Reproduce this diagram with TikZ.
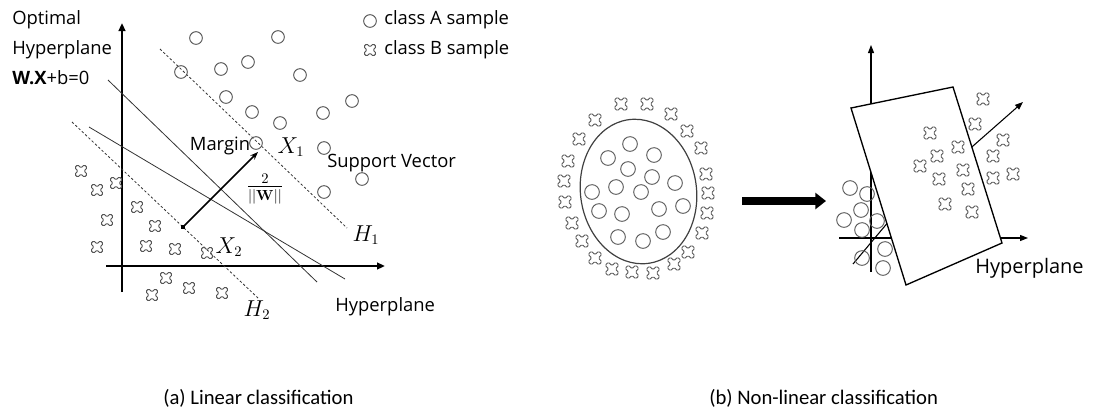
\documentclass[tikz,border=0pt]{standalone}
\usepackage[no-math]{fontspec}
\setmainfont{Open Sans}
\newfontfamily\capfont{Carlito}
\usepackage{amsmath}
\usepackage{tikz}
\usepackage{xcolor}
\usetikzlibrary{arrows.meta}
\definecolor{sampgray}{RGB}{85,85,85}

\tikzset{
  asample/.style={circle, draw=sampgray, line width=0.7pt, minimum size=9.5pt, inner sep=0pt},
  bigsample/.style={asample, minimum size=11pt, draw=black!65},
  bcross/.pic={\draw[sampgray, line width=0.7pt, rotate=45, rounded corners=1pt]
      (2.1,2.1) -- (2.1,6.8) -- (-2.1,6.8) -- (-2.1,2.1) -- (-6.8,2.1) -- (-6.8,-2.1)
      -- (-2.1,-2.1) -- (-2.1,-6.8) -- (2.1,-6.8) -- (2.1,-2.1) -- (6.8,-2.1) -- (6.8,2.1) -- cycle;},
  lbl/.style={font=\fontsize{13.8}{16}\selectfont, inner sep=0pt},
  mlbl/.style={font=\fontsize{16}{18}\selectfont, inner sep=0pt},
  captext/.style={font=\capfont\fontsize{15.5}{18}\selectfont, inner sep=0pt},
  axis/.style={line width=1.5pt, -{Triangle[length=6pt,width=5pt]}},
  thinaxis/.style={line width=0.8pt, -{Triangle[length=6pt,width=4.5pt]}},
  sepline/.style={line width=0.6pt, draw=black!80},
  marginline/.style={sepline, dash pattern=on 1.8pt off 1.6pt},
}

\begin{document}
\begin{tikzpicture}[x=0.75pt, y=-0.75pt]
\useasboundingbox (0,0) rectangle (1099,412);

% Linear case: axes
\coordinate (ybot) at (122,292);
\coordinate (ytop) at (122,23);
\coordinate (xleft) at (106,266);
\coordinate (xright) at (385,266);
\draw[axis] (ybot) -- (ytop);
\draw[axis] (xleft) -- (xright);

% Hyperplanes
\draw[sepline] (108,80) -- (317,282);
\draw[sepline] (89,127) -- (345,279);
\draw[marginline] (72,122) -- (258,298);
\draw[marginline] (160,49) -- (347,228);

% Margin arrow
\coordinate (mfrom) at (183,227);
\coordinate (mto) at (258,152);
\fill (mfrom) ++(-2,-2) rectangle ++(4,4);
\draw[line width=1.1pt, -{Stealth[length=6pt,width=4.5pt]}] (mfrom) -- (mto);

% Class A samples
\foreach \px/\py [count=\i] in {196/38,278/37,181/72,221/69,248/62,300/75,226/97,252/112,
    280/123,323/113,352/101,256/143,324/148,362/179,324/192}
  \node[asample] (a\i) at (\px,\py) {};

% Class B samples
\foreach \px/\py in {81/171,97/190,116/183,137/207,107/220,155/226,97/247,146/246,
    175/249,207/253,166/278,189/288,152/295,222/293}
  \pic at (\px,\py) {bcross};

% Legend
\node[asample] (keya) at (370,21) {};
\pic at (370,50) {bcross};
\node[lbl, anchor=west] (keyatext) at (384,20) {class A sample};
\node[lbl, anchor=west] (keybtext) at (384,50) {class B sample};

% Labels
\node[lbl, anchor=west] (optimal) at (12,20) {Optimal};
\node[lbl, anchor=west] (opthyp) at (12,50) {Hyperplane};
\node[lbl, anchor=west] (opteq) at (12,78) {\textbf{W.X}+b=0};
\node[lbl] (margin) at (220,146) {Margin};
\node[mlbl] (xone) at (291,147) {$X_1$};
\node[mlbl] (xtwo) at (229,247) {$X_2$};
\node[mlbl] (hone) at (366,235) {$H_1$};
\node[mlbl] (htwo) at (257,310) {$H_2$};
\node[mlbl] (width) at (265,189) {$\frac{2}{||\mathbf{W}||}$};
\node[lbl, anchor=west] (support) at (327,163) {Support Vector};
\node[lbl, anchor=west] (hypa) at (335,307) {Hyperplane};

% Non-linear case: input space
\draw[black!75, line width=0.9pt, rotate around={8:(638.5,191.5)}] (638.5,191.5) ellipse [x radius=58, y radius=72.5];
\foreach \px/\py [count=\i] in {630/144,608/158,654/155,628/169,652/177,616/187,592/192,641/192,
    675/183,599/211,622/214,659/209,683/206,618/237,643/241,663/232}
  \node[bigsample] (e\i) at (\px,\py) {};
\foreach \px/\py in {621/104,647/104,671/114,595/120,687/131,579/139,701/148,568/161,706/174,
    564/181,708/193,565/202,707/213,572/223,702/233,582/241,688/252,595/258,674/264,612/269,
    632/272,653/273}
  \pic[scale=1.1] at (\px,\py) {bcross};

% Mapping arrow
\coordinate (mapfrom) at (742,201);
\coordinate (mapto) at (826,201);
\draw[line width=6pt, -{Triangle[length=8pt,width=12pt]}] (mapfrom) -- (mapto);

% Feature space: axes behind the plane
\draw[thinaxis] (871,272) -- (871,45);
\draw[thinaxis] (839,238) -- (1028,238);
\draw[line width=0.8pt] (853,264) -- (900,208);
\draw[thinaxis] (940,175) -- (1023,102);
\draw[line width=1pt, fill=white] (851,108) -- (953,87) -- (1002,243) -- (906,285) -- cycle;

\foreach \px/\py [count=\i] in {850/188,867/194,861/210,844/220,877/221,862/230,885/249,862/258,883/268}
  \node[bigsample] (f\i) at (\px,\py) {};
\foreach \px/\py in {983/99,975/124,930/133,958/147,1003/140,937/156,993/156,920/166,963/170,
    939/179,993/178,1013/174,968/189,945/204,972/212}
  \pic[scale=1.1] at (\px,\py) {bcross};

\node[lbl, font=\fontsize{15}{18}\selectfont, anchor=west] (hypb) at (975,268) {Hyperplane};

% Captions
\node[captext, anchor=west] (capa) at (163,398) {(a) Linear classification};
\node[captext, anchor=west] (capb) at (709,398) {(b) Non-linear classification};
\end{tikzpicture}
\end{document}
